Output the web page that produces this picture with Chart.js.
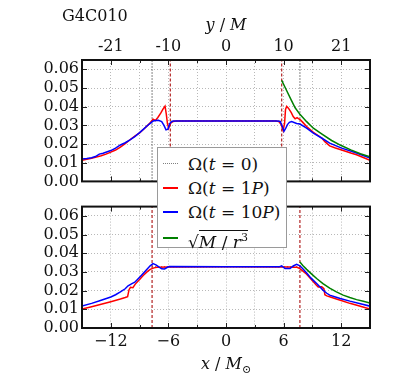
<!DOCTYPE html>
<html><head><meta charset="utf-8">
<script src="https://cdn.jsdelivr.net/npm/chart.js@4.4.0/dist/chart.umd.min.js"></script>
<style>
html,body{margin:0;padding:0;background:#fff;}
#wrap{position:relative;width:411px;height:377px;overflow:hidden;font-family:"DejaVu Serif",serif;color:#111;}
canvas{position:absolute;left:0;}
#c1{top:0;}
#c2{top:194px;}
.lbl{position:absolute;white-space:nowrap;line-height:1;}
#legend{position:absolute;left:157px;top:147px;width:128px;height:99px;border:1px solid #9a9a9a;background:#fff;z-index:5;}
.row{position:absolute;left:0;height:22px;width:128px;}
.smp{position:absolute;left:5px;width:15px;top:10px;height:0;}
.txt{position:absolute;left:30px;top:1px;font-size:17px;line-height:20px;white-space:nowrap;}
.ov{border-top:1px solid #111;padding-top:1px;}
</style>
</head><body>
<div id="wrap">
<canvas id="c1" width="411" height="194"></canvas>
<canvas id="c2" width="411" height="183"></canvas>
<div class="lbl" id="panelName" style="left:62px;top:8px;font-size:16px;"></div>
<div class="lbl" style="left:196px;width:60px;text-align:center;top:17px;font-size:16px;"><i>y</i> / <i>M</i></div>
<div class="lbl" style="left:186px;width:80px;text-align:center;top:356px;font-size:16px;"><i>x</i> / <i>M</i><sub style="font-size:11px;">⊙</sub></div>
<div id="legend"></div>
</div>
<script>
// ---------- data ----------
const panelName = 'G4C010';
const xGridTicks = [-15,-12,-9,-6,-3,0,3,6,9,12,15];
const xLabelPos = [-12,-6,0,6,12];
const topAxisLabels = ['-21','-10','0','10','21'];
const bottomAxisLabels = ['\u221212','\u22126','0','6','12'];
const yTicks = [0,0.01,0.02,0.03,0.04,0.05,0.06];
const yMax = 0.065;

const legendLabels = [
  'Ω(<i>t</i> = 0)',
  'Ω(<i>t</i> = 1<i>P</i>)',
  'Ω(<i>t</i> = 10<i>P</i>)',
  '√<span class="ov"><i>M</i> / <i>r</i><sup style="font-size:11px">3</sup></span>'
];

// top panel
const topT0 = [[-5.8,0.0323],[0,0.0323],[5.8,0.0323]];
const topP1 = [[-15,0.0113],[-14,0.0124],[-13,0.0137],[-12.5,0.0146],[-12,0.0157],[-11.5,0.0168],[-11,0.0183],[-10.5,0.0202],[-10,0.0223],[-9.5,0.0242],[-9,0.026],[-8.5,0.0283],[-8,0.0308],[-7.6,0.0333],[-7.35,0.0326],[-7.1,0.0342],[-6.8,0.0365],[-6.55,0.0388],[-6.35,0.0403],[-6.22,0.036],[-6.1,0.031],[-5.97,0.0285],[-5.8,0.031],[-5.5,0.0321],[-5.2,0.0323],[0,0.0324],[5.2,0.0323],[5.5,0.0321],[5.75,0.0305],[5.95,0.0272],[6.1,0.031],[6.2,0.0385],[6.32,0.0402],[6.5,0.0392],[6.8,0.0368],[7.0,0.0347],[7.2,0.0335],[7.4,0.0341],[7.55,0.0336],[7.75,0.033],[8.0,0.0316],[8.4,0.0294],[9.1,0.0263],[10.0,0.0231],[10.3,0.0213],[10.8,0.019],[11.4,0.0179],[12.05,0.0168],[13.0,0.0152],[13.6,0.0143],[14.3,0.0128],[15,0.0113]];
const topP10 = [[-15,0.012],[-14.5,0.0123],[-14,0.0127],[-13.6,0.0133],[-13.2,0.0146],[-12.8,0.0151],[-12,0.0165],[-11.5,0.0178],[-11,0.0195],[-10.5,0.0207],[-10,0.0222],[-9.5,0.024],[-9,0.0261],[-8.5,0.0284],[-8,0.0307],[-7.6,0.0323],[-7.3,0.0326],[-7.05,0.0327],[-6.7,0.032],[-6.46,0.030],[-6.25,0.0276],[-6.05,0.028],[-5.85,0.031],[-5.6,0.0322],[-5.3,0.0323],[0,0.0324],[5.3,0.0323],[5.65,0.0321],[5.85,0.0295],[6.04,0.0268],[6.2,0.0282],[6.4,0.0304],[6.6,0.0316],[6.84,0.032],[7.36,0.031],[7.7,0.0307],[8.4,0.0285],[9.1,0.0258],[10.0,0.0231],[10.8,0.0205],[12.05,0.0178],[13.6,0.0152],[15,0.0125]];
const topKep = [[5.8,0.0541],[6.3,0.0488],[6.8,0.0435],[7.2,0.0394],[7.7,0.0359],[8.4,0.032],[9.1,0.0285],[10,0.0253],[11,0.0219],[12,0.0192],[13,0.0169],[14,0.0148],[15,0.0132]];
const topDashX = [-5.8,5.8];
const topDotX = [-7.7,7.7];

// bottom panel
const botT0 = [[-7.7,0.0328],[0,0.0328],[7.7,0.0328]];
const botP1 = [[-15,0.0102],[-14,0.0114],[-13,0.0127],[-12,0.0141],[-11,0.0155],[-10.5,0.0163],[-10.25,0.0168],[-10.1,0.0205],[-9.95,0.0218],[-9.7,0.0216],[-9.45,0.0235],[-9.0,0.026],[-8.6,0.0282],[-8.2,0.0302],[-7.9,0.0314],[-7.5,0.0322],[-7.2,0.0325],[-6,0.0327],[0,0.0328],[6.6,0.0327],[7.0,0.0325],[7.4,0.0325],[7.7,0.0318],[8.05,0.0303],[8.4,0.0288],[8.75,0.0268],[9.1,0.0248],[9.4,0.023],[9.6,0.022],[9.97,0.0221],[10.2,0.0211],[10.3,0.0178],[10.5,0.0172],[10.8,0.0167],[11.5,0.0155],[12,0.0147],[12.9,0.0132],[14,0.0116],[15,0.0101]];
const botP10 = [[-15,0.0117],[-14,0.0132],[-13,0.0149],[-12,0.0166],[-11.5,0.0178],[-11,0.0193],[-10.5,0.021],[-10.2,0.0226],[-9.8,0.0238],[-9.5,0.0245],[-9.3,0.0256],[-8.8,0.0282],[-8.3,0.031],[-7.9,0.0333],[-7.6,0.0345],[-7.3,0.0338],[-7.0,0.0327],[-6.7,0.0317],[-6.4,0.0316],[-6.1,0.0325],[-5.9,0.0329],[0,0.0328],[5.6,0.0328],[5.8,0.0333],[6.15,0.0318],[6.67,0.0318],[7.0,0.0332],[7.36,0.0341],[7.7,0.0333],[8.05,0.0314],[8.4,0.0294],[8.75,0.0273],[9.1,0.0255],[9.44,0.0238],[9.8,0.022],[10.1,0.0203],[10.5,0.0186],[10.8,0.0176],[11.4,0.0166],[11.9,0.0158],[12.9,0.0144],[14,0.013],[15,0.0117]];
const botKep = [[7.7,0.0353],[8.0,0.0335],[8.4,0.0314],[8.9,0.029],[9.44,0.0265],[10.1,0.0238],[10.8,0.0213],[11.5,0.0193],[12.2,0.0176],[12.9,0.0163],[13.6,0.0152],[14.3,0.0143],[15,0.0134]];
const botDashX = [-7.7,7.7];

// ---------- styles ----------
const C_T0 = '#808080', C_P1 = '#ff0000', C_P10 = '#0000ff', C_KEP = '#008000', C_VDASH = '#b22222', C_VDOT = '#333333';
const FONT = {family:'DejaVu Serif', size:16};

document.getElementById('panelName').textContent = panelName;

const legendStyles = [
  'border-top:1.5px dotted ' + C_T0,
  'border-top:2px solid ' + C_P1,
  'border-top:2px solid ' + C_P10,
  'border-top:2px solid ' + C_KEP
];
const legendTops = [5, 29, 53, 79];
const lg = document.getElementById('legend');
legendLabels.forEach((l, i) => {
  const r = document.createElement('div');
  r.className = 'row';
  r.style.top = legendTops[i] + 'px';
  r.innerHTML = '<div class="smp" style="' + legendStyles[i] + '"></div><div class="txt">' + l + '</div>';
  lg.appendChild(r);
});

const pts = arr => arr.map(([x, y]) => ({x, y}));
const line = (arr, color, order, extra) => Object.assign({
  data: pts(arr), borderColor: color, borderWidth: 1.5, pointRadius: 0, fill: false, tension: 0, order
}, extra || {});
const vline = (x, color, dash, order) => ({
  data: [{x, y: 0}, {x, y: yMax}], borderColor: color, borderWidth: 1.2, borderDash: dash, pointRadius: 0, fill: false, order
});

const framePlugin = {
  id: 'frame',
  afterDraw(chart) {
    const {ctx, chartArea: a, scales} = chart;
    ctx.save();
    ctx.strokeStyle = '#222';
    ctx.lineWidth = 1;
    xGridTicks.forEach(v => {
      const px = Math.round(scales.x.getPixelForValue(v)) + 0.5;
      const len = xLabelPos.includes(v) ? 5 : 3;
      ctx.beginPath();
      ctx.moveTo(px, a.top); ctx.lineTo(px, a.top + len);
      ctx.moveTo(px, a.bottom); ctx.lineTo(px, a.bottom - len);
      ctx.stroke();
    });
    yTicks.forEach(v => {
      const py = Math.round(scales.y.getPixelForValue(v)) + 0.5;
      ctx.beginPath();
      ctx.moveTo(a.left, py); ctx.lineTo(a.left + 5, py);
      ctx.moveTo(a.right, py); ctx.lineTo(a.right - 5, py);
      ctx.stroke();
    });
    ctx.strokeStyle = '#111';
    ctx.lineWidth = 2;
    ctx.strokeRect(a.left, a.top, a.right - a.left, a.bottom - a.top);
    ctx.restore();
  }
};

function makeScales(xPos, xLabels, xHeight) {
  return {
    x: {
      type: 'linear', position: xPos, min: -15, max: 15,
      afterBuildTicks: s => { s.ticks = xGridTicks.map(v => ({value: v})); },
      afterFit: s => { s.height = xHeight; },
      ticks: {
        autoSkip: false, maxRotation: 0, padding: 4, color: '#111', font: FONT,
        callback: v => { const i = xLabelPos.indexOf(v); return i >= 0 ? xLabels[i] : ''; }
      },
      grid: {color: '#b8b8b8', lineWidth: 1, drawTicks: false},
      border: {display: false, dash: [1, 2]}
    },
    y: {
      type: 'linear', min: 0, max: yMax,
      afterBuildTicks: s => { s.ticks = yTicks.map(v => ({value: v})); },
      afterFit: s => { s.width = 82; },
      ticks: {autoSkip: false, padding: 3, color: '#111', font: FONT, callback: v => Number(v).toFixed(2)},
      grid: {color: '#b8b8b8', lineWidth: 1, drawTicks: false},
      border: {display: false, dash: [1, 2]}
    }
  };
}

const common = {
  responsive: false, animation: false, devicePixelRatio: 1,
  plugins: {legend: {display: false}, tooltip: {enabled: false}},
  elements: {line: {borderCapStyle: 'butt'}}
};

new Chart(document.getElementById('c1'), {
  type: 'line',
  data: {datasets: [
    line(topT0, C_T0, 4, {borderDash: [1, 2]}),
    line(topP1, C_P1, 2),
    line(topP10, C_P10, 1),
    line(topKep, C_KEP, 0),
    ...topDashX.map(x => vline(x, C_VDASH, [3, 2], 3)),
    ...topDotX.map(x => vline(x, C_VDOT, [1, 2], 3))
  ]},
  options: Object.assign({}, common, {
    layout: {padding: {left: 0, right: 41, top: 0, bottom: 12}},
    scales: makeScales('top', topAxisLabels, 60)
  }),
  plugins: [framePlugin]
});

new Chart(document.getElementById('c2'), {
  type: 'line',
  data: {datasets: [
    line(botT0, C_T0, 4, {borderDash: [1, 2]}),
    line(botP1, C_P1, 2),
    line(botP10, C_P10, 1),
    line(botKep, C_KEP, 0),
    ...botDashX.map(x => vline(x, C_VDASH, [3, 2], 3))
  ]},
  options: Object.assign({}, common, {
    layout: {padding: {left: 0, right: 41, top: 12, bottom: 0}},
    scales: makeScales('bottom', bottomAxisLabels, 49)
  }),
  plugins: [framePlugin]
});
</script>
</body></html>
